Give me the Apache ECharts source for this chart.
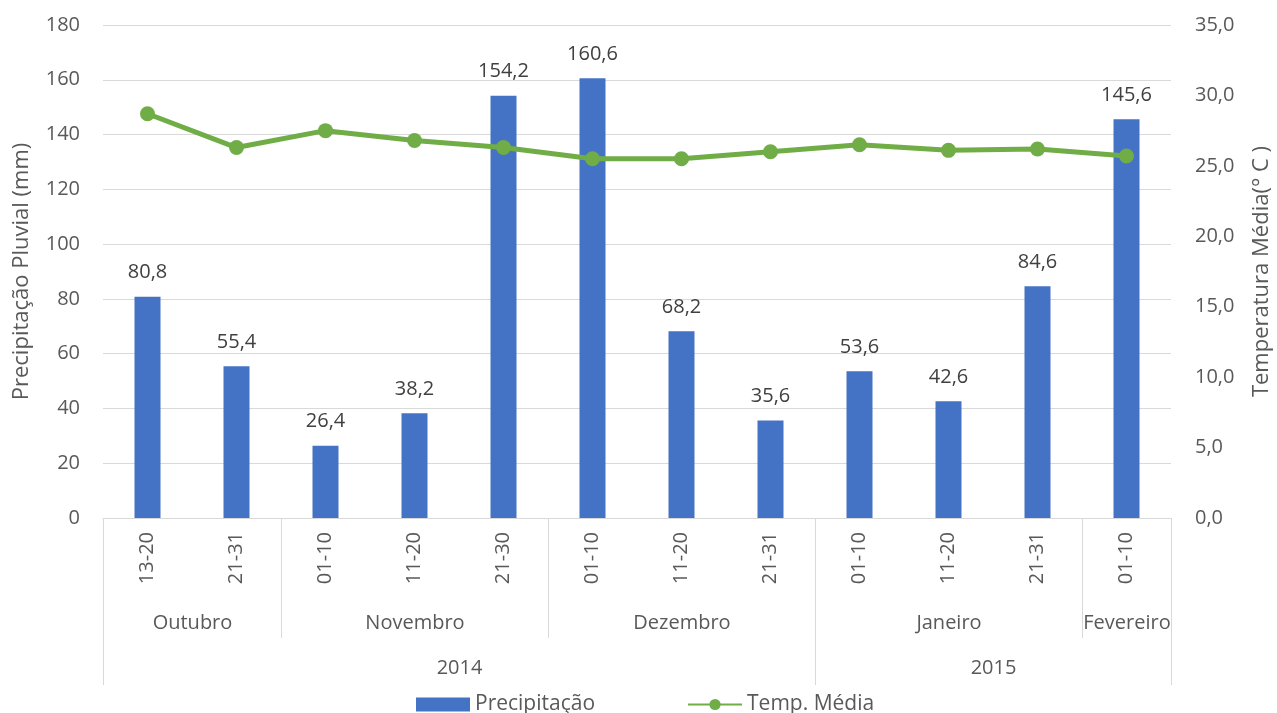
<!DOCTYPE html>
<html style="height: 100%">
	<head>
		<meta charset="utf-8">
	</head>
	<body style="height: 100%; margin: 0; background: #fff">
		<div id="container" style="width: 1277px; height: 713px"></div>
		<script src="https://cdn.jsdelivr.net/npm/echarts@6/dist/echarts.min.js" type="text/javascript" charset="utf-8"></script>
		<script type="text/javascript">
			// dados
			var periodos = ['13-20', '21-31', '01-10', '11-20', '21-30', '01-10', '11-20', '21-31', '01-10', '11-20', '21-31', '01-10'];
			var precipitacao = [80.8, 55.4, 26.4, 38.2, 154.2, 160.6, 68.2, 35.6, 53.6, 42.6, 84.6, 145.6];
			var tempMedia = [28.7, 26.3, 27.5, 26.8, 26.3, 25.5, 25.5, 26.0, 26.5, 26.1, 26.2, 25.7];
			var meses = ['Outubro', 'Novembro', 'Dezembro', 'Janeiro', 'Fevereiro'];
			var mesesSpan = [2, 3, 3, 3, 1];
			var anos = ['2014', '2015'];
			var anosSpan = [8, 4];

			var fonte = '"Open Sans", "Noto Sans", sans-serif';
			var corTexto = '#595959';
			var corLinha = '#d9d9d9';

			function virgula(v, casas) {
				return v.toFixed(casas).replace('.', ',');
			}

			// grupos do eixo (mês = nível 0, ano = nível 1)
			var grupos = [];
			var ini = 0;
			for (var i = 0; i < meses.length; i++) {
				grupos.push({name: meses[i], value: [ini, ini + mesesSpan[i], 0]});
				ini += mesesSpan[i];
			}
			ini = 0;
			for (var j = 0; j < anos.length; j++) {
				grupos.push({name: anos[j], value: [ini, ini + anosSpan[j], 1]});
				ini += anosSpan[j];
			}

			function desenhaGrupo(params, api) {
				var a = api.value(0), b = api.value(1), nivel = api.value(2);
				var banda = api.size([1, 0])[0];
				var p = api.coord([a, 0]);
				var x0 = Math.round(p[0] - banda / 2) + 0.5;
				var x1 = Math.round(p[0] - banda / 2 + banda * (b - a)) + 0.5;
				var y0 = p[1];
				var fundo = nivel === 0 ? 120 : 167;
				var ty = nivel === 0 ? 105 : 150;
				var nome = grupos[params.dataIndex].name;
				return {
					type: 'group',
					children: [
						{type: 'line', shape: {x1: x0, y1: y0, x2: x0, y2: y0 + fundo}, style: {stroke: corLinha, lineWidth: 1}},
						{type: 'line', shape: {x1: x1, y1: y0, x2: x1, y2: y0 + fundo}, style: {stroke: corLinha, lineWidth: 1}},
						{type: 'text', x: (x0 + x1) / 2, y: y0 + ty, style: {
							text: nome, fill: corTexto, fontSize: 20, fontFamily: fonte,
							align: 'center', verticalAlign: 'middle'
						}}
					]
				};
			}

			var myChart = echarts.init(document.getElementById('container'));
			var option = {
				backgroundColor: '#fff',
				animation: false,
				textStyle: {fontFamily: fonte},
				grid: {left: 103, right: 106, top: 25, bottom: 195, outerBoundsMode: 'none', containLabel: false},
				legend: {
					data: [{name: 'Precipitação', icon: 'rect'}, {name: 'Temp. Média'}],
					bottom: -7,
					left: 411,
					itemGap: 92,
					itemWidth: 54,
					itemHeight: 14,
					textStyle: {color: corTexto, fontSize: 21, fontFamily: fonte}
				},
				xAxis: {
					type: 'category',
					data: periodos,
					axisLine: {lineStyle: {color: corLinha}},
					axisTick: {show: false},
					axisLabel: {rotate: 90, color: corTexto, fontSize: 20, margin: 14}
				},
				yAxis: [{
					type: 'value',
					min: 0, max: 180, interval: 20,
					name: 'Precipitação Pluvial (mm)',
					nameLocation: 'middle',
					nameGap: 70,
					nameTextStyle: {color: corTexto, fontSize: 22},
					axisLine: {show: false},
					axisTick: {show: false},
					axisLabel: {color: corTexto, fontSize: 20, margin: 23},
					splitLine: {lineStyle: {color: corLinha}}
				}, {
					type: 'value',
					min: 0, max: 35, interval: 5,
					name: 'Temperatura Média(° C )',
					nameLocation: 'middle',
					nameGap: 80,
					nameTextStyle: {color: corTexto, fontSize: 22},
					axisLine: {show: false},
					axisTick: {show: false},
					axisLabel: {color: corTexto, fontSize: 20, margin: 24, formatter: function (v) { return virgula(v, 1); }},
					splitLine: {show: false}
				}],
				series: [{
					name: 'Precipitação',
					type: 'bar',
					data: precipitacao,
					barWidth: 26,
					itemStyle: {color: '#4472c4'},
					label: {
						show: true, position: 'top', distance: 14,
						color: '#404040', fontSize: 20,
						formatter: function (p) { return virgula(p.value, 1); }
					}
				}, {
					name: 'Temp. Média',
					type: 'line',
					yAxisIndex: 1,
					data: tempMedia,
					symbol: 'circle',
					symbolSize: 15,
					lineStyle: {color: '#70ad47', width: 5},
					itemStyle: {color: '#70ad47'}
				}, {
					name: 'grupos',
					type: 'custom',
					silent: true,
					clip: false,
					renderItem: desenhaGrupo,
					data: grupos
				}]
			};
			myChart.setOption(option);
		</script>
	</body>
</html>
